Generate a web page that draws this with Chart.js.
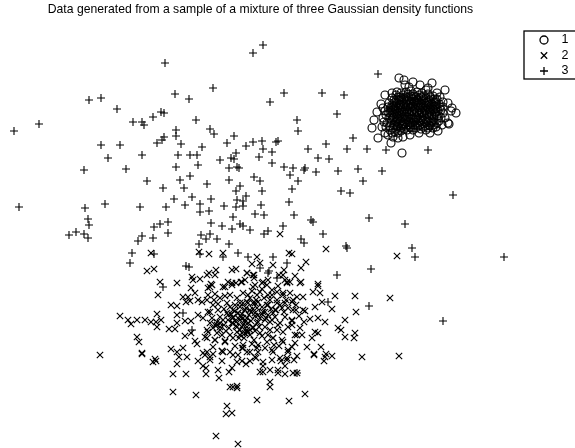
<!DOCTYPE html>
<html>
<head>
<meta charset="utf-8">
<style>
  html, body { margin: 0; background: #fff; }
  canvas { display: block; }
</style>
<script src="https://cdn.jsdelivr.net/npm/chart.js@4/dist/chart.umd.js"></script>
</head>
<body>
<canvas id="mix" width="575" height="448"></canvas>
<script>
const titleText = 'Data generated from a sample of a mixture of three Gaussian density functions'
const legendLabels = ['1', '2', '3']

// the picture has no ticks, values are read off in its own units: [x, y] with y running down
const group1 = [
  [399,78],[404,80],[413,82],[420,85],[432,83],[428,88],[426,90],[445,90],[397,92],[385,95],[409,87],[405,85],
  [381,104],[377,112],[374,120],[372,128],[383,108],[383,118],[382,127],[378,138],[385,133],[391,143],[402,153],
  [448,103],[451,111],[456,113],[452,108],[449,124],[448,123],[438,131],[436,127],[419,133],[393,137],[403,137],
  [388,135],[398,138],[410,135],[430,133],[442,125],[443,113],[443,102],[440,97],[388,107],[387,123],[390,130],
  [392,98],[396,95],[401,93],[406,92],[411,91],[417,92],[422,93],[428,94],[433,96],[437,99],[394,103],[399,100],
  [404,98],[409,97],[414,96],[419,98],[424,99],[429,100],[434,102],[439,104],[391,108],[396,106],[401,105],
  [406,103],[411,102],[416,103],[421,104],[426,105],[431,106],[436,108],[441,110],[390,113],[395,112],[400,110],
  [405,109],[410,108],[415,109],[420,110],[425,111],[430,112],[435,113],[439,116],[389,118],[394,117],[399,116],
  [404,114],[409,114],[414,115],[419,115],[424,116],[429,118],[434,119],[439,121],[391,123],[396,122],[401,121],
  [406,120],[411,119],[416,120],[421,121],[426,122],[431,123],[393,128],[398,127],[403,126],[408,125],[413,125],
  [418,126],[423,127],[428,128],[395,132],[401,131],[407,130],[413,130],[433,128],[400,97],[418,101],[407,112],
  [413,106],[397,119],[422,113],[403,124],[428,103],[393,110],[434,110],[416,118],[410,127],[386,115],[386,127],
  [394,100],[398,97],[403,95],[408,94],[413,94],[419,95],[424,96],[430,97],[435,99],[392,105],[397,103],[402,101],
  [407,100],[412,99],[417,100],[422,101],[427,102],[432,104],[437,105],[440,107],[393,107],[398,108],[403,107],
  [408,106],[413,104],[418,105],[423,107],[428,108],[433,109],[438,111],[392,115],[397,114],[402,112],[407,110],
  [412,111],[417,112],[422,112],[427,114],[432,115],[437,116],[392,120],[397,121],[402,118],[407,117],[412,117],
  [417,117],[422,118],[427,120],[432,121],[437,123],[394,125],[399,124],[404,122],[409,122],[414,122],[419,123],
  [424,124],[429,125],[434,125],[396,129],[401,128],[406,127],[411,128],[416,128],[421,129],[426,130],[390,126],
  [388,112],[389,103],[395,109],[400,104],[405,116],[410,104],[415,101],[420,107],[425,108],[430,109],[435,106],
  [441,118],[411,123],[404,129],[398,133],[392,133],[384,122],[385,111],[392,93],[437,93],[443,107],[445,118],
  [396,101],[401,99],[406,97],[411,96],[416,97],[421,97],[426,98],[431,99],[436,102],[394,106],[399,105],[404,104],
  [409,101],[414,102],[419,103],[424,103],[429,105],[434,107],[391,111],[396,110],[401,108],[406,107],[411,107],
  [416,107],[421,108],[426,110],[431,110],[436,112],[394,114],[399,113],[404,112],[409,112],[414,112],[419,113],
  [424,113],[429,115],[434,116],[393,118],[398,118],[403,117],[408,117],[413,119],[418,119],[423,120],[428,121],
  [433,122],[395,123],[400,122],[405,124],[410,125],[415,125],[420,125],[425,126],[430,126],[397,126],[402,125]
]

const group2 = [
  [151,253],[209,254],[199,252],[223,253],[280,234],[147,271],[154,269],[257,257],[252,264],[260,263],[273,265],
  [289,253],[284,270],[216,270],[209,273],[207,275],[232,270],[236,269],[247,273],[254,275],[279,275],[192,277],
  [193,280],[200,279],[160,282],[177,283],[211,284],[228,282],[232,283],[236,283],[241,282],[245,280],[254,278],
  [263,282],[268,280],[285,280],[287,282],[326,249],[397,256],[292,254],[306,262],[301,268],[295,276],[301,282],
  [318,284],[158,295],[215,275],[191,288],[208,288],[212,285],[183,297],[188,297],[195,293],[186,302],[190,301],
  [171,305],[177,306],[198,300],[207,300],[215,294],[225,287],[120,316],[128,320],[131,324],[137,320],[145,320],
  [151,322],[157,314],[156,322],[161,320],[157,327],[177,315],[177,323],[169,329],[175,329],[185,321],[191,321],
  [198,315],[203,318],[210,312],[218,310],[227,303],[233,310],[240,303],[247,302],[210,323],[217,325],[223,320],
  [233,317],[238,313],[245,320],[220,330],[242,327],[247,332],[237,332],[137,337],[139,342],[142,353],[100,355],
  [185,336],[191,333],[195,341],[197,344],[207,338],[215,340],[225,341],[233,338],[243,345],[171,349],[177,352],
  [183,348],[207,352],[210,357],[203,353],[222,351],[230,352],[238,355],[247,352],[179,357],[187,357],[155,359],
  [217,333],[213,328],[207,330],[253,275],[247,273],[242,282],[262,283],[283,275],[290,282],[313,292],[320,293],
  [335,296],[355,296],[390,298],[322,302],[315,307],[332,309],[356,312],[253,287],[260,292],[248,295],[268,295],
  [283,293],[297,297],[292,302],[277,300],[303,310],[253,303],[245,310],[262,307],[273,313],[260,318],[247,318],
  [292,320],[310,319],[318,318],[325,322],[345,320],[300,328],[315,332],[338,328],[341,330],[345,337],[355,333],
  [354,338],[253,327],[247,330],[265,327],[283,332],[297,335],[312,338],[318,333],[250,335],[242,333],[273,338],
  [282,340],[295,343],[307,347],[321,347],[243,348],[258,345],[267,342],[273,352],[288,350],[297,356],[314,355],
  [325,357],[332,356],[362,357],[399,356],[250,352],[255,357],[280,358],[287,358],[240,320],[248,323],[265,320],
  [275,317],[240,307],[248,303],[257,308],[265,312],[292,325],[318,286],[142,354],[153,362],[156,361],[198,361],
  [205,355],[210,360],[203,366],[206,368],[213,354],[223,352],[233,355],[237,362],[246,364],[242,361],[256,358],
  [258,352],[263,362],[263,366],[173,374],[186,374],[206,374],[218,370],[219,378],[229,372],[232,368],[177,364],
  [260,372],[263,372],[270,370],[278,370],[278,373],[285,374],[293,373],[297,373],[270,382],[270,387],[230,387],
  [233,387],[237,386],[237,388],[173,392],[196,395],[257,400],[289,401],[305,394],[227,406],[226,414],[232,413],
  [216,436],[238,444],[324,361],[281,361],[287,360],[294,360],[285,366],[314,354],[326,354],
  [235,311],[238,318],[242,314],[246,308],[251,312],[255,316],[258,322],[262,314],[268,305],[272,320],[276,310],
  [280,305],[284,312],[288,308],[278,325],[270,330],[262,336],[254,340],[232,323],[228,315],[224,309],[236,326],
  [250,298],[256,300],[264,298],[272,290],[278,286],[286,300],[296,310],[304,322],[229,328],[222,335],[274,345],
  [210,287],[223,287],[232,285],[255,285],[267,285],[287,283],[300,283],[208,295],[220,298],[230,295],[243,293],
  [257,295],[272,295],[293,300],[283,295],[202,302],[213,305],[235,305],[243,303],[258,302],[267,305],[277,303],
  [285,303],[208,312],[220,317],[227,313],[238,313],[250,310],[263,312],[275,310],[293,310],[305,311],[215,325],
  [220,327],[233,323],[245,322],[250,330],[257,323],[270,322],[280,323],[292,321],[205,337],[215,340],[225,342],
  [240,335],[248,332],[260,333],[273,338],[283,342],[295,335],[222,351],[242,348],[257,348],[272,350],[288,352],
  [247,327],[253,328],[240,330],[245,333],[237,327],[233,318],[220,323],[217,322],[255,313],[268,315],[245,310],
  [228,320],[236,322],[243,325],[251,321],[241,317],[249,315],[253,309],[259,327],[266,318],[239,338],[226,331],
  [214,300],[225,296],[237,298],[252,291],[262,289],[277,292],[290,293],[303,297],[218,304],[230,307],[255,303],
  [270,300],[282,308],[296,305],[212,318],[224,325],[231,314],[243,318],[258,315],[271,309],[285,317],[299,316],
  [208,332],[230,335],[244,338],[255,331],[268,335],[277,330],[288,327],[302,335],[213,347],[235,346],[252,344],
  [265,348],[279,346],[292,347],[222,361],[250,361],[272,360]
]

const group3 = [
  [14,131],[39,124],[89,100],[101,98],[117,109],[133,122],[142,122],[144,125],[153,117],[161,112],[164,113],
  [175,94],[189,99],[165,63],[213,88],[253,53],[263,45],[270,102],[284,93],[196,120],[176,130],[176,136],
  [164,137],[162,140],[157,143],[101,145],[120,145],[108,158],[142,155],[181,144],[202,147],[178,155],[190,155],
  [197,155],[210,129],[214,134],[227,143],[234,136],[246,146],[253,142],[262,141],[276,142],[278,141],[263,149],
  [272,152],[236,153],[231,158],[234,159],[220,160],[259,157],[272,163],[284,167],[176,167],[198,165],[229,168],
  [237,167],[239,168],[84,170],[126,169],[147,181],[163,188],[180,180],[190,176],[184,188],[207,184],[229,180],
  [254,177],[260,181],[240,186],[236,191],[262,191],[246,196],[192,197],[211,199],[174,199],[237,200],[243,201],
  [200,204],[185,205],[166,207],[140,207],[105,204],[85,208],[19,207],[224,206],[236,207],[243,206],[261,205],
  [289,202],[209,211],[200,212],[233,217],[255,214],[264,215],[88,219],[89,225],[69,235],[76,232],[84,234],
  [88,238],[160,224],[168,222],[154,227],[142,236],[138,241],[153,238],[168,233],[211,223],[222,226],[240,224],
  [243,226],[232,229],[250,230],[283,226],[268,231],[264,234],[201,235],[210,234],[206,239],[217,239],[199,244],
  [229,244],[132,253],[154,254],[200,254],[223,257],[238,253],[248,257],[273,257],[130,263],[186,266],[189,267],
  [260,268],[287,263],[269,271],[293,168],[305,168],[304,170],[316,172],[338,171],[358,169],[382,171],[290,175],
  [298,181],[363,181],[292,189],[341,191],[350,193],[453,195],[369,218],[294,215],[311,220],[313,222],[405,224],
  [323,234],[301,239],[304,243],[346,246],[347,248],[412,248],[415,257],[504,257],[371,269],[337,275],[378,74],
  [322,93],[344,95],[337,114],[297,120],[298,131],[353,138],[326,144],[308,149],[347,149],[367,149],[386,150],
  [428,150],[318,158],[329,159],[369,306],[328,302],[268,273],[443,321],[297,373],[163,287],[183,313],[192,330],
  [277,278]
]

// frame and keys right of the plot, cut off by the page edge like the reference
const legendBox = {
  id: 'legendBox',
  afterDraw(chart) {
    const ctx = chart.ctx
    ctx.save()
    ctx.strokeStyle = '#000'
    ctx.lineWidth = 1.3
    ctx.strokeRect(524, 31, 60, 48)

    chart.data.datasets.forEach((ds, i) => {
      const y = 40 + i * 15.5
      ctx.fillStyle = 'transparent'
      ctx.strokeStyle = '#000'
      Chart.helpers.drawPoint(ctx, {
        pointStyle: ds.pointStyle,
        radius: ds.pointRadius,
        borderWidth: ds.borderWidth,
      }, 544, y)

      ctx.fillStyle = '#000'
      ctx.font = '12.5px "Liberation Sans", sans-serif'
      ctx.textAlign = 'center'
      ctx.textBaseline = 'middle'
      ctx.fillText(ds.label, 565, y)
    })
    ctx.restore()
  }
}

const makeSet = (label, rows, pointStyle, pointRadius) => ({
  label,
  data: rows.map(r => ({ x: r[0], y: r[1] })),
  pointStyle,
  pointRadius,
  borderWidth: 1.1,
  borderColor: '#000',
  backgroundColor: 'transparent',
  showLine: false,
})

new Chart(document.getElementById('mix'), {
  type: 'scatter',
  plugins: [legendBox],
  data: {
    datasets: [
      makeSet(legendLabels[0], group1, 'circle', 4),
      makeSet(legendLabels[1], group2, 'crossRot', 4.5),
      makeSet(legendLabels[2], group3, 'cross', 4),
    ]
  },
  options: {
    responsive: false,
    animation: false,
    // right padding keeps the title centred over the plot, not the page
    layout: { autoPadding: false, padding: { left: 0, top: 0, bottom: 0, right: 54 } },
    scales: {
      x: { type: 'linear', display: false, min: 0, max: 521 },
      y: { type: 'linear', display: false, min: 20, max: 448, reverse: true },
    },
    plugins: {
      legend: { display: false },
      tooltip: { enabled: false },
      title: {
        display: true,
        text: titleText,
        color: '#000',
        padding: { top: 3, bottom: 3 },
        font: { family: '"Liberation Sans", sans-serif', size: 12.2, weight: 'normal', lineHeight: '14px' },
      }
    }
  }
})
</script>
</body>
</html>
